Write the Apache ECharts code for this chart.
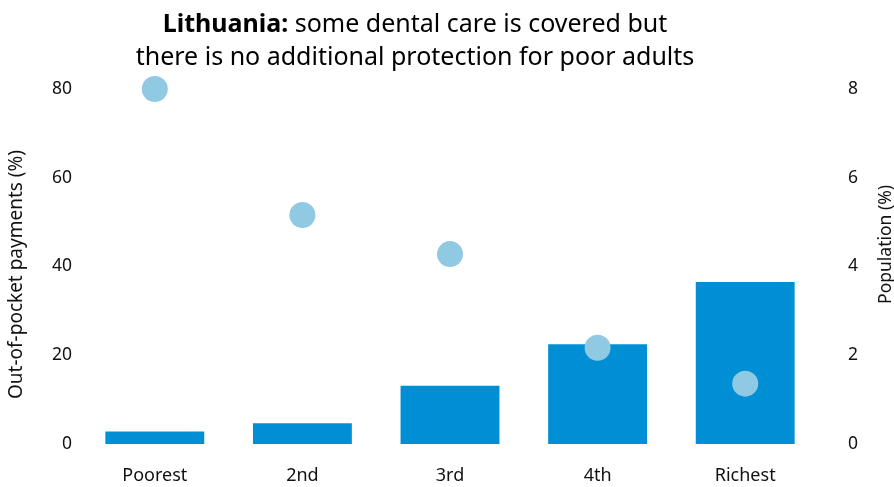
<!DOCTYPE html>
<html>
<head>
<meta charset="utf-8">
<script src="https://cdn.jsdelivr.net/npm/echarts@6/dist/echarts.min.js"></script>
<style>html,body{margin:0;padding:0;background:#fff;}#c{width:894px;height:487px;}</style>
</head>
<body>
<div id="c"></div>
<script>
const categories = ['Poorest', '2nd', '3rd', '4th', 'Richest'];
const oopPayments = [2.8, 4.7, 13.1, 22.5, 36.5];
const population = [8.0, 5.16, 4.28, 2.17, 1.36];
const leftTicks = [0, 20, 40, 60, 80];
const rightTicks = [0, 2, 4, 6, 8];

const FONT = 'Noto Sans';
const chart = echarts.init(document.getElementById('c'));
chart.setOption({
  animation: false,
  textStyle: { fontFamily: FONT },
  title: {
    text: '{b|Lithuania:} some dental care is covered but\nthere is no additional protection for poor adults',
    left: 410, top: 3, textAlign: 'center',
    textStyle: {
      fontFamily: FONT, fontSize: 25, fontWeight: 'normal', color: '#000', lineHeight: 33,
      rich: { b: { fontFamily: FONT, fontSize: 25, fontWeight: 'bold', color: '#000', lineHeight: 33 } }
    }
  },
  grid: { left: 81, right: 75, top: 89, bottom: 43, outerBoundsMode: 'none', containLabel: false },
  xAxis: {
    type: 'category', data: categories,
    axisLine: { show: false }, axisTick: { show: false },
    axisLabel: { fontFamily: FONT, fontSize: 18, color: '#111', margin: 23 }
  },
  yAxis: [
    {
      type: 'value', min: leftTicks[0], max: leftTicks[leftTicks.length - 1], interval: 20,
      name: 'Out-of-pocket payments (%)', nameLocation: 'middle', nameGap: 55,
      nameTextStyle: { fontFamily: FONT, fontSize: 19, color: '#111', padding: [0, 16, 0, 0] },
      axisLine: { show: false }, axisTick: { show: false }, splitLine: { show: false },
      axisLabel: { fontFamily: FONT, fontSize: 17.5, color: '#111', margin: 9 }
    },
    {
      type: 'value', min: rightTicks[0], max: rightTicks[rightTicks.length - 1], interval: 2,
      position: 'right',
      name: 'Population (%)', nameLocation: 'middle', nameGap: 58,
      nameTextStyle: { fontFamily: FONT, fontSize: 17.5, color: '#111', padding: [0, 0, 0, 44] },
      axisLine: { show: false }, axisTick: { show: false }, splitLine: { show: false },
      axisLabel: { fontFamily: FONT, fontSize: 17.5, color: '#111', margin: 29 }
    }
  ],
  series: [
    {
      type: 'bar', data: oopPayments, yAxisIndex: 0, barWidth: '67%',
      itemStyle: { color: '#008fd5' }
    },
    {
      type: 'scatter', data: population, yAxisIndex: 1, symbolSize: 26,
      itemStyle: { color: '#90c9e2', opacity: 1 }
    }
  ]
});
</script>
</body>
</html>
